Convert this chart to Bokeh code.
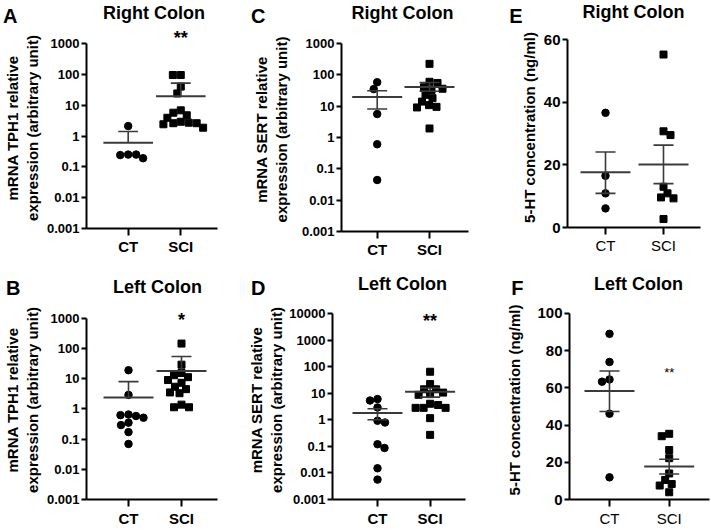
import math
from bokeh.plotting import figure
from bokeh.layouts import row, column
from bokeh.models import Range1d, FixedTicker, Label
from bokeh.core.properties import value
from bokeh.embed import file_html
from bokeh.resources import INLINE

FONT = "Liberation Sans"
groups = ["CT", "SCI"]

log6_ticks = [0.001, 0.01, 0.1, 1, 10, 100, 1000]
log6_labels = ["0.001", "0.01", "0.1", "1", "10", "100", "1000"]
log7_ticks = [0.001, 0.01, 0.1, 1, 10, 100, 1000, 10000]
log7_labels = ["0.001", "0.01", "0.1", "1", "10", "100", "1000", "10000"]
e_ticks = [0, 20, 40, 60]
e_labels = ["0", "20", "40", "60"]
f_ticks = [0, 20, 40, 60, 80, 100]
f_labels = ["0", "20", "40", "60", "80", "100"]

# Panel A: TPH1, right colon
a_ct = [2.1, 0.25, 0.25, 0.24, 0.19]
a_sci = [95, 95, 40, 24, 6.8, 5.7, 4.7, 3.9, 2.9, 2.7, 2.6, 2.6, 2.4, 1.86]
a_mean = [0.6, 19.5]
a_hi = [1.4, 52]
a_lo = [None, None]

# Panel B: TPH1, left colon
b_ct = [19, 2.9, 0.65, 0.58, 0.62, 0.51, 0.35, 0.29, 0.17, 0.069]
b_sci = [145, 29, 15.4, 11.2, 9, 13, 7.3, 5.4, 4.5, 3.3, 3.5, 1.38, 1.13, 1.13]
b_mean = [2.4, 17.9]
b_hi = [8.0, 54]
b_lo = [None, None]

# Panel C: SERT, right colon
c_ct = [58, 35, 5.6, 0.61, 0.044]
c_sci = [224, 55, 60, 40, 36, 33, 23, 18, 14, 10.8, 9.5, 9.1, 1.94]
c_mean = [19.5, 41]
c_hi = [31, 57]
c_lo = [8.1, 30]

# Panel D: SERT, left colon
d_ct = [6.0, 5.3, 2.9, 0.79, 0.92, 0.12, 0.087, 0.015, 0.0056]
d_sci = [64, 22, 14, 14, 10.5, 9.2, 8.7, 4.0, 3.6, 2.8, 2.8, 2.8, 1.15, 0.27]
d_mean = [1.8, 11.4]
d_hi = [2.6, 15.7]
d_lo = [1.0, 7.1]

# Panel E: 5-HT, right colon
e_ct = [36.6, 16.5, 10.9, 6.1]
e_sci = [55.2, 30.7, 29.5, 13.0, 10.9, 9.6, 9.3, 2.7]
e_mean = [17.6, 20.1]
e_hi = [24.1, 26.3]
e_lo = [10.9, 14.0]

# Panel F: 5-HT, left colon
f_ct = [89.0, 73.9, 64.5, 63.3, 46.1, 11.9]
f_sci = [35.3, 34.0, 26.6, 22.2, 14.0, 10.5, 8.3, 7.5, 3.9]
f_mean = [58.3, 17.7]
f_hi = [69.0, 21.6]
f_lo = [47.3, 13.7]

tph1_label = "mRNA TPH1 relative\nexpression (arbitrary unit)"
sert_label = "mRNA SERT relative\nexpression (arbitrary unit)"
ht_label = "5-HT concentration (ng/ml)"

# layout: box = (fig width, fig height, frame left, frame right, frame top, frame bottom)
panels = [
    dict(letter="A", title="Right Colon", ylabel=tph1_label, log=True, ticks=log6_ticks, labels=log6_labels,
         ct=a_ct, sci=a_sci, mean=a_mean, hi=a_hi, lo=a_lo, stars="**", star_size="18px", star_bold=True,
         star_top=27, star_y_data=None, header=27, xstand=2,
         box=(235, 265, 85, 217, 43, 228), xpx=(42, 95), title_xy=(153, 12), letter_xy=(16, 15),
         tick_font="13px", xlab_bold=True, ylab_standoff=3),
    dict(letter="C", title="Right Colon", ylabel=sert_label, log=True, ticks=log6_ticks, labels=log6_labels,
         ct=c_ct, sci=c_sci, mean=c_mean, hi=c_hi, lo=c_lo, stars=None, header=27, xstand=2,
         box=(235, 265, 106, 233, 43, 231), xpx=(35.7, 88), title_xy=(167, 12), letter_xy=(30, 15),
         tick_font="13px", xlab_bold=True, ylab_standoff=9),
    dict(letter="E", title="Right Colon", ylabel=ht_label, log=False, ticks=e_ticks, labels=e_labels,
         ct=e_ct, sci=e_sci, mean=e_mean, hi=e_hi, lo=e_lo, stars=None, header=27, xstand=2,
         box=(240, 265, 97, 230, 39, 227), xpx=(38, 96), title_xy=(163, 11), letter_xy=(52, 15.5),
         tick_font="15px", xlab_bold=False, ylab_standoff=3),
    dict(letter="B", title="Left Colon", ylabel=tph1_label, log=True, ticks=log6_ticks, labels=log6_labels,
         ct=b_ct, sci=b_sci, mean=b_mean, hi=b_hi, lo=b_lo, stars="*", star_size="18px", star_bold=True,
         star_top=47, star_y_data=None, header=35, xstand=3,
         box=(235, 264, 86, 217, 53, 237), xpx=(42, 95), title_xy=(157, 21), letter_xy=(20, 22),
         tick_font="13px", xlab_bold=True, ylab_standoff=3),
    dict(letter="D", title="Left Colon", ylabel=sert_label, log=True, ticks=log7_ticks, labels=log7_labels,
         ct=d_ct, sci=d_sci, mean=d_mean, hi=d_hi, lo=d_lo, stars="**", star_size="18px", star_bold=True,
         star_top=46, star_y_data=None, header=35, xstand=3,
         box=(235, 264, 97, 230, 48, 235), xpx=(45, 97.6), title_xy=(167, 18), letter_xy=(30, 22),
         tick_font="13px", xlab_bold=True, ylab_standoff=1),
    dict(letter="F", title="Left Colon", ylabel=ht_label, log=False, ticks=f_ticks, labels=f_labels,
         ct=f_ct, sci=f_sci, mean=f_mean, hi=f_hi, lo=f_lo, stars="**", star_size="13px", star_bold=False,
         star_top=None, star_y_data=68, header=35, xstand=3,
         box=(240, 264, 99, 239, 48, 236), xpx=(40, 99.7), title_xy=(168, 18), letter_xy=(53, 22),
         tick_font="15px", xlab_bold=False, ylab_standoff=11),
]


def swarm(vals, to_px, d=7.6, step=0.5):
    ys = [to_px(v) for v in vals]
    order = sorted(range(len(vals)), key=lambda i: -vals[i])
    placed = []
    offs = [0.0] * len(vals)
    for n, i in enumerate(order):
        y = ys[i]
        k = 0
        chosen = None
        while chosen is None:
            if k == 0:
                cands = [0.0]
            else:
                cands = [k * step, -k * step] if n % 2 == 0 else [-k * step, k * step]
            for c in cands:
                if all((c - px) ** 2 + (y - py) ** 2 >= d * d for px, py in placed):
                    chosen = c
                    break
            k += 1
        offs[i] = chosen
        placed.append((chosen, y))
    return offs


def make_header(s):
    w, h, L, R, T, B = s["box"]
    H = s["header"]
    hp = figure(width=w, height=H, x_range=Range1d(L, R), y_range=Range1d(H, 0),
                output_backend="svg", toolbar_location=None,
                min_border_left=L, min_border_right=w - R, min_border_top=0, min_border_bottom=0,
                x_axis_location=None, y_axis_location="left")
    hp.outline_line_color = None
    hp.xgrid.visible = False
    hp.ygrid.visible = False
    hp.background_fill_color = "white"
    hp.border_fill_color = "white"
    tx, ty = s["title_xy"]
    hp.text(x=[tx], y=[ty], text=[s["title"]], text_font=value(FONT), text_font_size="18px",
            text_font_style="bold", text_align="center", text_baseline="middle", text_color="black")
    # panel letter: shown as the single label of the header's left axis
    lx, ly = s["letter_xy"]
    la = hp.yaxis[0]
    la.ticker = FixedTicker(ticks=[ly])
    la.major_label_overrides = {ly: s["letter"]}
    la.axis_line_color = None
    la.major_tick_line_color = None
    la.minor_tick_line_color = None
    la.major_tick_out = 0
    la.major_tick_in = 0
    la.major_label_standoff = L - lx
    la.major_label_text_font = FONT
    la.major_label_text_font_size = "20px"
    la.major_label_text_font_style = "bold"
    la.major_label_text_color = "black"
    return hp


def make_panel(s):
    w, h, L, R, T, B = s["box"]
    H = s["header"]
    fw, fh = R - L, B - T
    extra = T - H
    ct_px, sci_px = s["xpx"]
    unit = sci_px - ct_px
    x0 = -ct_px / unit
    x1 = x0 + fw / unit
    ticks = s["ticks"]
    ymin, ymax = ticks[0], ticks[-1]
    log = s["log"]

    if log:
        lo_l, hi_l = math.log10(ymin), math.log10(ymax)
        ytop = 10 ** (hi_l + extra * (hi_l - lo_l) / fh)
    else:
        ytop = ymax + extra * (ymax - ymin) / fh

    def ypx(v):
        if log:
            return fh * (math.log10(v) - math.log10(ymin)) / (math.log10(ymax) - math.log10(ymin))
        return fh * (v - ymin) / (ymax - ymin)

    p = figure(width=w, height=h - H, x_range=Range1d(x0, x1), y_range=Range1d(ymin, ytop),
               y_axis_type="log" if log else "linear", output_backend="svg", toolbar_location=None,
               min_border_left=L, min_border_right=w - R, min_border_top=0, min_border_bottom=h - B)
    p.outline_line_color = None
    p.xgrid.visible = False
    p.ygrid.visible = False
    p.background_fill_color = "white"
    p.border_fill_color = "white"

    # x axis
    xa = p.xaxis[0]
    xa.ticker = FixedTicker(ticks=[0, 1])
    xa.major_label_overrides = {0: groups[0], 1: groups[1]}
    xa.axis_line_width = 2
    xa.major_tick_line_width = 2
    xa.major_tick_out = 7
    xa.major_tick_in = 0
    xa.minor_tick_line_color = None
    xa.major_label_standoff = s["xstand"]
    xa.major_label_text_font = FONT
    xa.major_label_text_font_size = "15px"
    xa.major_label_text_font_style = "bold" if s["xlab_bold"] else "normal"
    xa.major_label_text_color = "black"

    # y axis
    ya = p.yaxis[0]
    ya.ticker = FixedTicker(ticks=ticks)
    ya.bounds = (ymin, ymax)
    ya.major_label_overrides = {t: l for t, l in zip(ticks, s["labels"])}
    ya.axis_line_width = 2
    ya.major_tick_line_width = 2
    ya.major_tick_out = 5
    ya.major_tick_in = 0
    ya.minor_tick_line_color = None
    ya.major_label_standoff = 2
    ya.major_label_text_font = FONT
    ya.major_label_text_font_size = s["tick_font"]
    ya.major_label_text_font_style = "bold"
    ya.major_label_text_color = "black"
    ya.axis_label = s["ylabel"]
    ya.axis_label_text_font = FONT
    ya.axis_label_text_font_size = "15px"
    ya.axis_label_text_font_style = "bold"
    ya.axis_label_text_color = "black"
    ya.axis_label_standoff = s["ylab_standoff"]

    # points
    for gi, (vals, marker, size) in enumerate([(s["ct"], "circle", 7.5), (s["sci"], "square", 7)]):
        offs = swarm(vals, ypx, d=7.6)
        xs = [gi + o / unit for o in offs]
        p.scatter(xs, vals, marker=marker, size=size, color="black")

    # mean and error bars
    mw = 25 / unit
    cw = 10 / unit
    lc = "#3a3a3a"
    for gi in range(2):
        m, hi, lo = s["mean"][gi], s["hi"][gi], s["lo"][gi]
        p.segment(x0=[gi - mw], y0=[m], x1=[gi + mw], y1=[m], line_color=lc, line_width=2)
        p.segment(x0=[gi], y0=[lo if lo is not None else m], x1=[gi], y1=[hi], line_color=lc, line_width=1.6)
        p.segment(x0=[gi - cw], y0=[hi], x1=[gi + cw], y1=[hi], line_color=lc, line_width=1.6)
        if lo is not None:
            p.segment(x0=[gi - cw], y0=[lo], x1=[gi + cw], y1=[lo], line_color=lc, line_width=1.6)

    # significance stars (inside the frame)
    if s["stars"]:
        common = dict(text=s["stars"], text_font=FONT, text_font_size=s["star_size"],
                      text_font_style="bold" if s["star_bold"] else "normal",
                      text_align="center", text_color="black", x=1, x_units="data")
        if s["star_y_data"] is not None:
            p.add_layout(Label(y=s["star_y_data"], y_units="data", text_baseline="middle", **common))
        else:
            p.add_layout(Label(y=B - s["star_top"], y_units="screen", text_baseline="top", **common))

    return column(make_header(s), p, spacing=0)


cells = [make_panel(s) for s in panels]
layout = column(row(cells[0], cells[1], cells[2], spacing=0),
                row(cells[3], cells[4], cells[5], spacing=0), spacing=0)
open("out.html", "w").write(file_html(layout, INLINE))
